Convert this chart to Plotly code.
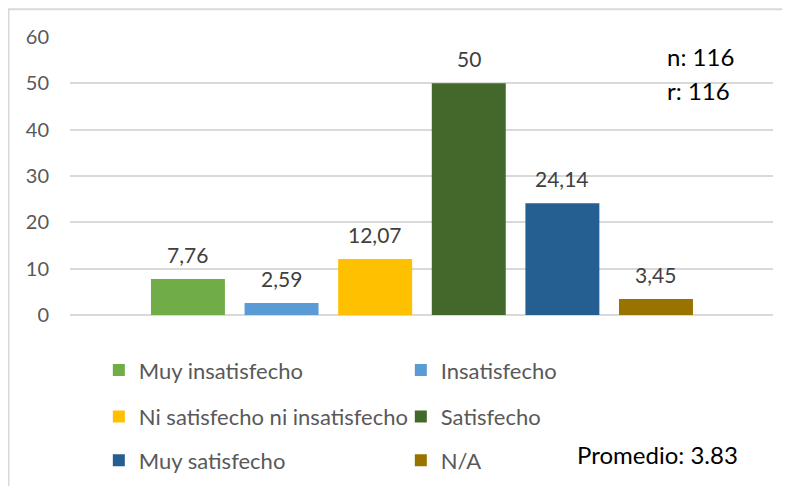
import plotly.graph_objects as go

# Distribución de satisfacción (%)
categorias = ['Muy insatisfecho', 'Insatisfecho', 'Ni satisfecho ni insatisfecho',
              'Satisfecho', 'Muy satisfecho', 'N/A']
porcentajes = [7.76, 2.59, 12.07, 50, 24.14, 3.45]
colores = ['#70AD47', '#5B9BD5', '#FFC000', '#43682B', '#255E91', '#997300']
# which legend row each category goes into (2 per row, like the Excel legend)
filas_leyenda = ['legend', 'legend', 'legend2', 'legend2', 'legend3', 'legend3']
ticks_y = [0, 10, 20, 30, 40, 50, 60]

FONT = 'Lato, Calibri, Carlito, sans-serif'

fig = go.Figure()
for cat, val, col, leg in zip(categorias, porcentajes, colores, filas_leyenda):
  fig.add_trace(go.Bar(x=[cat], y=[val], name=cat, marker_color=col,
                       marker_line_width=0, legend=leg, hoverinfo='x+y'))
  # data label a bit above the bar, as in Excel
  fig.add_annotation(x=cat, y=val, text=f'{val:g}'.replace('.', ','),
                     showarrow=False, yanchor='middle', yshift=25,
                     font=dict(family=FONT, size=21, color='#404040'))

fig.update_layout(
  width=790, height=486,
  margin=dict(l=62, r=25, t=29, b=176),
  paper_bgcolor='white', plot_bgcolor='white',
  barmode='overlay', bargap=0.21,
  font=dict(family=FONT, color='#595959'),
  showlegend=True,
)
fig.update_xaxes(categoryorder='array', categoryarray=categorias,
                 range=[-1.26, 6.25], showticklabels=False, showgrid=False,
                 zeroline=False, showline=False)
fig.update_yaxes(range=[0, 60], tickvals=ticks_y, showgrid=True, gridcolor='#d9d9d9',
                 gridwidth=1.5, zeroline=True, zerolinecolor='#d9d9d9', zerolinewidth=1.5,
                 showline=False, ticks='', ticklabelstandoff=20,
                 tickfont=dict(family=FONT, size=20, color='#595959'))

leg_common = dict(orientation='h', xanchor='left', x=0.041, yanchor='middle',
                  entrywidth=257, entrywidthmode='pixels', bgcolor='rgba(0,0,0,0)',
                  font=dict(family=FONT, size=22, color='#595959'), tracegroupgap=0)
fig.update_layout(legend=dict(y=-0.199, **leg_common),
                  legend2=dict(y=-0.366, **leg_common),
                  legend3=dict(y=-0.523, **leg_common))

# side notes
nota = dict(xref='paper', yref='paper', showarrow=False, xanchor='left', yanchor='middle')
fig.add_annotation(x=0.8463, y=0.929, text='n: 116',
                   font=dict(family=FONT, size=24, color='black'), **nota)
fig.add_annotation(x=0.8463, y=0.808, text='r: 116',
                   font=dict(family=FONT, size=24, color='black'), **nota)
fig.add_annotation(x=0.7183, y=-0.501, text='Promedio: 3.83',
                   font=dict(family=FONT, size=24, color='black'), **nota)

# light chart-area border (runs off the right/bottom of the crop)
fig.add_shape(type='rect', xref='paper', yref='paper', x0=-0.0875, x1=1.06, y0=-0.7, y1=1.1,
              line=dict(color='#d9d9d9', width=2), fillcolor='rgba(0,0,0,0)', layer='below')

fig.write_html('out.html')
